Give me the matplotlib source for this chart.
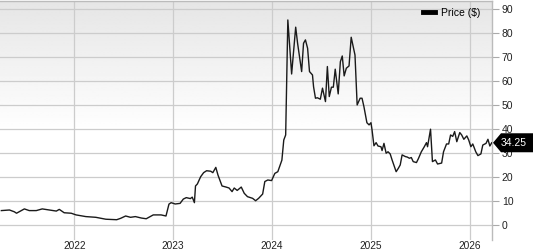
import matplotlib
matplotlib.use("Agg")
import matplotlib.pyplot as plt
import matplotlib.dates as mdates
from matplotlib.lines import Line2D
from matplotlib.patches import Polygon
from matplotlib.transforms import IdentityTransform
import numpy as np
import pandas as pd

plt.rcParams['font.family'] = ['Liberation Sans', 'DejaVu Sans']

# price history
dates = [
    "2021-04-07", "2021-05-07", "2021-05-25", "2021-06-02", "2021-07-01", "2021-07-19",
    "2021-08-14", "2021-09-05", "2021-10-01", "2021-10-27", "2021-11-07", "2021-11-25",
    "2021-12-21", "2022-01-08", "2022-02-13", "2022-03-22", "2022-04-28", "2022-06-07",
    "2022-06-22", "2022-07-10", "2022-07-28", "2022-08-15", "2022-09-06", "2022-09-24",
    "2022-10-20", "2022-11-18", "2022-12-06", "2022-12-17", "2022-12-25", "2023-01-09",
    "2023-01-27", "2023-02-08", "2023-02-19", "2023-03-06", "2023-03-13", "2023-03-21",
    "2023-03-25", "2023-04-01", "2023-04-13", "2023-04-24", "2023-05-05", "2023-05-20",
    "2023-05-28", "2023-06-08", "2023-06-16", "2023-07-01", "2023-07-16", "2023-07-27",
    "2023-08-07", "2023-08-15", "2023-08-26", "2023-09-10", "2023-09-21", "2023-10-03",
    "2023-10-22", "2023-11-02", "2023-11-13", "2023-11-28", "2023-12-06", "2023-12-17",
    "2023-12-31", "2024-01-12", "2024-01-23", "2024-02-07", "2024-02-14", "2024-02-21",
    "2024-02-29", "2024-03-14", "2024-03-29", "2024-04-05", "2024-04-20", "2024-04-27",
    "2024-05-04", "2024-05-12", "2024-05-19", "2024-05-30", "2024-06-03", "2024-06-10",
    "2024-06-17", "2024-06-28", "2024-07-06", "2024-07-17", "2024-07-24", "2024-07-31",
    "2024-08-08", "2024-08-15", "2024-08-22", "2024-09-02", "2024-09-10", "2024-09-17",
    "2024-09-24", "2024-10-02", "2024-10-12", "2024-10-20", "2024-11-03", "2024-11-11",
    "2024-11-22", "2024-11-29", "2024-12-06", "2024-12-17", "2024-12-25", "2025-01-01",
    "2025-01-05", "2025-01-12", "2025-01-20", "2025-01-27", "2025-02-07", "2025-02-11",
    "2025-02-18", "2025-02-26", "2025-03-05", "2025-03-13", "2025-03-20", "2025-04-04",
    "2025-04-12", "2025-04-19", "2025-04-26", "2025-05-08", "2025-05-15", "2025-05-23",
    "2025-05-30", "2025-06-06", "2025-06-18", "2025-06-25", "2025-07-06", "2025-07-17",
    "2025-07-25", "2025-07-29", "2025-08-09", "2025-08-16", "2025-08-27", "2025-09-04",
    "2025-09-19", "2025-09-26", "2025-10-07", "2025-10-15", "2025-10-22", "2025-10-30",
    "2025-11-06", "2025-11-14", "2025-11-25", "2025-12-02", "2025-12-10", "2025-12-21",
    "2025-12-28", "2026-01-05", "2026-01-12", "2026-01-23", "2026-01-31", "2026-02-11",
    "2026-02-18", "2026-03-02", "2026-03-09", "2026-03-16", "2026-03-23",
]
prices = [
    6.0, 6.25, 5.5, 4.9, 6.7, 6.0,
    6.0, 6.7, 6.25, 5.8, 6.5, 5.1,
    4.9, 4.2, 3.5, 3.2, 2.4, 2.2,
    2.8, 3.75, 3.2, 3.5, 2.9, 2.6,
    4.2, 4.2, 3.75, 8.7, 9.3, 8.75,
    9.0, 10.8, 11.4, 11.0, 11.6, 9.3,
    16.25, 17.1, 20.1, 21.8, 22.6, 22.4,
    21.8, 24.0, 20.8, 16.25, 15.8, 15.4,
    13.9, 15.4, 14.4, 15.8, 13.2, 11.8,
    11.1, 10.1, 11.1, 12.9, 18.1, 18.75,
    18.5, 21.5, 22.2, 27.0, 35.4, 37.5,
    85.4, 62.9, 82.4, 75.7, 63.9, 75.7,
    77.1, 73.6, 63.9, 62.5, 57.6, 52.8,
    53.0, 52.4, 57.0, 51.4, 66.0, 53.5,
    57.4, 57.4, 64.9, 54.6, 68.0, 70.4,
    62.1, 65.3, 66.25, 78.2, 70.8, 50.0,
    52.8, 52.8, 49.3, 42.6, 41.7, 42.6,
    39.6, 33.0, 34.3, 32.9, 32.6, 31.0,
    34.0, 29.9, 30.5, 29.6, 27.1, 22.2,
    23.6, 25.0, 29.2, 28.5, 28.3, 27.8,
    28.1, 26.4, 26.0, 27.6, 30.5, 32.6,
    34.3, 32.6, 39.9, 26.4, 27.1, 25.4,
    25.8, 30.5, 33.75, 33.75, 37.5, 36.9,
    38.9, 34.7, 38.5, 37.5, 35.7, 37.1,
    35.4, 32.6, 33.75, 30.5, 28.9, 29.6,
    33.3, 34.0, 35.7, 32.9, 34.25,
]
year_ticks = ["2022", "2023", "2024", "2025", "2026"]
y_ticks = [0, 10, 20, 30, 40, 50, 60, 70, 80, 90]
last_price = "34.25"

dates = pd.to_datetime(dates)

fig = plt.figure(figsize=(5.33, 2.5), dpi=100)
ax = fig.add_axes([0.0, 0.04, 492 / 533, 0.956])

# background gradient: light gray at top fading to white half way down
grad = np.ones((200, 1))
grad[:110, 0] = np.linspace(0.9, 1.0, 110)
ax.imshow(grad, extent=[0, 1, 0, 1], transform=ax.transAxes, aspect='auto',
          cmap='gray', vmin=0, vmax=1, zorder=0, interpolation='bilinear')

ax.plot(dates, prices, color='#1a1a1a', lw=1.0, zorder=3)

ax.set_xlim(pd.Timestamp("2021-04-02"), pd.Timestamp("2026-03-24"))
ax.set_ylim(-6.25, 93.3)

ax.set_xticks(pd.to_datetime(year_ticks))
ax.xaxis.set_major_formatter(mdates.DateFormatter('%Y'))
ax.set_yticks(y_ticks)
ax.yaxis.tick_right()
ax.tick_params(axis='x', length=0, pad=0.5, labelsize=7.3, colors='#222222')
ax.tick_params(axis='y', length=5, width=0.8, color='#aaaaaa', pad=2,
               labelsize=7.5, labelcolor='#222222')
ax.grid(True, color='#cccccc', lw=0.9, zorder=1)
ax.set_axisbelow(True)

for side in ['left', 'bottom']:
    ax.spines[side].set_visible(False)
for side in ['top', 'right']:
    ax.spines[side].set_color('#bbbbbb')
    ax.spines[side].set_linewidth(1.0)

handle = Line2D([], [], color='black', lw=3.5)
ax.legend([handle], ['Price ($)'], loc='upper right', bbox_to_anchor=(0.995, 1.01),
          frameon=False, fontsize=7.5, handlelength=1.1, handletextpad=0.6)

# last price tag on the right axis
fig.canvas.draw()
y_disp = ax.transData.transform((0, prices[-1]))[1]
x0 = ax.transAxes.transform((1, 0))[0] + 1
tag = Polygon([[x0, y_disp], [x0 + 8, y_disp - 9.5], [533, y_disp - 9.5],
               [533, y_disp + 9.5], [x0 + 8, y_disp + 9.5]],
              closed=True, facecolor='black', edgecolor='none',
              transform=IdentityTransform(), zorder=10)
fig.patches.append(tag)
fig.text((x0 + 20.5) / 533, y_disp / 250, last_price, color='white',
         fontsize=7.5, ha='center', va='center', zorder=11)

fig.savefig("out.png", dpi=100)
